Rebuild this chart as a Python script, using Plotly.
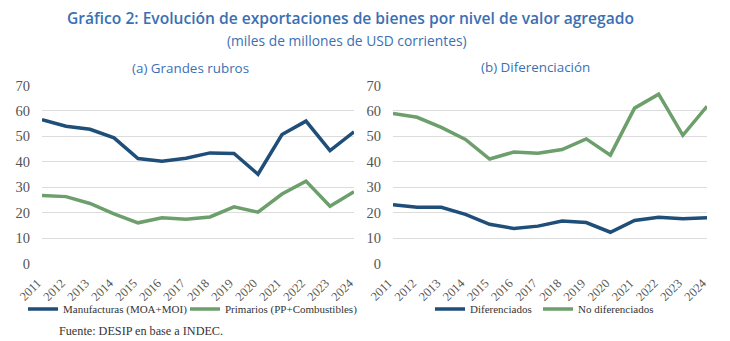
import plotly.graph_objects as go
from plotly.subplots import make_subplots

years = [str(y) for y in range(2011, 2025)]

# (a) Grandes rubros
manufacturas = [56.6, 54.0, 52.8, 49.4, 41.3, 40.2, 41.4, 43.5, 43.3, 35.1, 50.7, 56.0, 44.4, 51.8]
primarios = [26.7, 26.3, 23.6, 19.5, 16.0, 18.0, 17.4, 18.3, 22.3, 20.2, 27.3, 32.4, 22.5, 28.2]

# (b) Diferenciación
diferenciados = [23.1, 22.1, 22.1, 19.3, 15.4, 13.8, 14.7, 16.7, 16.1, 12.3, 16.9, 18.2, 17.6, 18.0]
no_diferenciados = [59.0, 57.5, 53.5, 48.8, 41.1, 43.8, 43.4, 44.8, 49.0, 42.6, 61.1, 66.6, 50.4, 61.8]

y_ticks = [0, 10, 20, 30, 40, 50, 60, 70]

BLUE = "#1f4e79"
GREEN = "#6c9f6c"
TITLE_BLUE = "#3a70b3"
SERIF = "Liberation Serif"
SANS = "Open Sans"

fig = make_subplots(rows=1, cols=2)

fig.add_trace(go.Scatter(x=years, y=manufacturas, mode="lines", name="Manufacturas (MOA+MOI)",
                         line=dict(color=BLUE, width=3.5), legend="legend", legendwidth=117),
              row=1, col=1)
fig.add_trace(go.Scatter(x=years, y=primarios, mode="lines", name="Primarios (PP+Combustibles)",
                         line=dict(color=GREEN, width=3.5), legend="legend"), row=1, col=1)
fig.add_trace(go.Scatter(x=years, y=diferenciados, mode="lines", name="Diferenciados",
                         line=dict(color=BLUE, width=3.5), legend="legend2", legendwidth=63),
              row=1, col=2)
fig.add_trace(go.Scatter(x=years, y=no_diferenciados, mode="lines", name="No diferenciados",
                         line=dict(color=GREEN, width=3.5), legend="legend2"), row=1, col=2)

W, H = 730, 341
y_dom = [(H - 263.5) / H, (H - 85.5) / H]

# rotated year labels, padded with non-breaking spaces so they sit below-left of each tick
year_labels = [y + "\u00a0\u00a0" for y in years]

fig.update_xaxes(type="category", tickangle=-45, showgrid=False, showline=False,
                 zeroline=False, automargin=False,
                 tickvals=years, ticktext=year_labels,
                 ticks="outside", ticklen=2, tickcolor="rgba(0,0,0,0)",
                 tickfont=dict(family=SERIF, size=12.5, color="#555555"))
fig.update_yaxes(range=[0, 70], tickvals=y_ticks, showgrid=True, gridcolor="#dcdcdc",
                 gridwidth=1, domain=y_dom, showline=False, zeroline=False, automargin=False,
                 ticks="outside", ticklen=8, tickcolor="rgba(0,0,0,0)",
                 tickfont=dict(family=SERIF, size=14.5, color="#555555"))
fig.update_xaxes(domain=[42 / W, 354 / W], row=1, col=1)
fig.update_xaxes(domain=[393 / W, 707 / W], row=1, col=2)

legend_common = dict(orientation="h", xanchor="left", yanchor="middle", yref="paper",
                     bgcolor="rgba(0,0,0,0)", itemwidth=30,
                     font=dict(family=SERIF, size=11, color="#333333"))

fig.update_layout(
    width=W, height=H,
    margin=dict(l=0, r=0, t=0, b=0, autoexpand=False),
    paper_bgcolor="white", plot_bgcolor="white",
    showlegend=True,
    legend=dict(x=23 / W, y=(H - 309) / H, **legend_common),
    legend2=dict(x=430 / W, y=(H - 309) / H, **legend_common),
    annotations=[
        dict(text="Gráfico 2: Evolución de exportaciones de bienes por nivel de valor agregado",
             x=350 / W, y=(H - 18) / H, xref="paper", yref="paper", showarrow=False,
             xanchor="center", yanchor="middle",
             font=dict(family=SANS, size=15.6, weight=600, color=TITLE_BLUE)),
        dict(text="(miles de millones de USD corrientes)",
             x=347 / W, y=(H - 40) / H, xref="paper", yref="paper", showarrow=False,
             xanchor="center", yanchor="middle",
             font=dict(family=SANS, size=13.8, weight=500, color=TITLE_BLUE)),
        dict(text="(a) Grandes rubros",
             x=190 / W, y=(H - 68) / H, xref="paper", yref="paper", showarrow=False,
             xanchor="center", yanchor="middle",
             font=dict(family=SANS, size=13.4, weight=500, color=TITLE_BLUE)),
        dict(text="(b) Diferenciación",
             x=535 / W, y=(H - 67) / H, xref="paper", yref="paper", showarrow=False,
             xanchor="center", yanchor="middle",
             font=dict(family=SANS, size=13.4, weight=500, color=TITLE_BLUE)),
        dict(text="Fuente: DESIP en base a INDEC.",
             x=57 / W, y=(H - 331) / H, xref="paper", yref="paper", showarrow=False,
             xanchor="left", yanchor="middle",
             font=dict(family=SERIF, size=12.2, color="#333333")),
    ],
)

fig.write_html("out.html")
